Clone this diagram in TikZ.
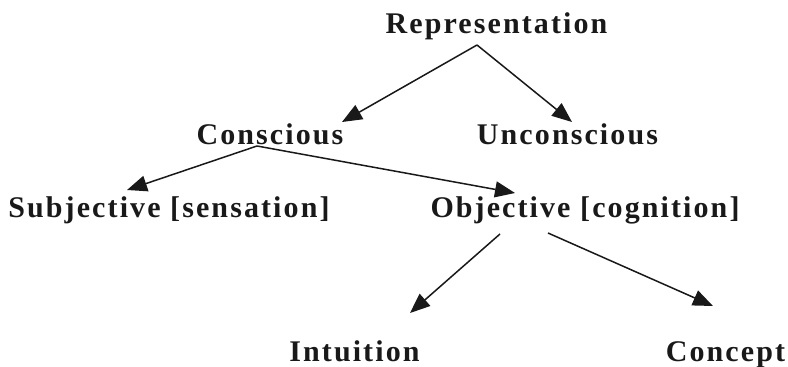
\documentclass[tikz,border=0pt]{standalone}
\usepackage{fontspec}
\setmainfont{Liberation Serif}[LetterSpace=7]
\usetikzlibrary{arrows.meta}
\begin{document}
\begin{tikzpicture}[x=1pt,y=-1pt,
  lbl/.style={font=\fontsize{30}{34}\selectfont\bfseries, text=black!90, inner sep=0pt, anchor=base},
  arr/.style={line width=1.5pt, draw=black!90, -{Triangle[length=20pt,width=16pt]}}]
\useasboundingbox (0,0) rectangle (788,367);
\node[lbl] (rep) at (496.5,33) {Representation};
\node[lbl] (con) at (270,144) {Conscious};
\node[lbl] (unc) at (567.5,144) {Unconscious};
\node[lbl] (sub) at (169,217) {Subjective [sensation]};
\node[lbl] (obj) at (585,217) {Objective [cognition]};
\node[lbl] (int) at (354.5,361) {Intuition};
\node[lbl] (cpt) at (725.5,361) {Concept};
\draw[arr] ([xshift=-19.5pt,yshift=-12pt]rep.base) -- ([xshift=72pt,yshift=22pt]con.base);
\draw[arr] ([xshift=-19.5pt,yshift=-12pt]rep.base) -- ([xshift=4.5pt,yshift=22pt]unc.base);
\draw[arr] ([xshift=-13pt,yshift=-2pt]con.base) -- ([xshift=-42pt,yshift=27pt]sub.base);
\draw[arr] ([xshift=-13pt,yshift=-2pt]con.base) -- ([xshift=-70pt,yshift=24pt]obj.base);
\draw[arr] ([xshift=-85pt,yshift=-17pt]obj.base) -- ([xshift=55.5pt,yshift=48pt]int.base);
\draw[arr] ([xshift=-37pt,yshift=-16pt]obj.base) -- ([xshift=-12.5pt,yshift=55pt]cpt.base);
\end{tikzpicture}
\end{document}
